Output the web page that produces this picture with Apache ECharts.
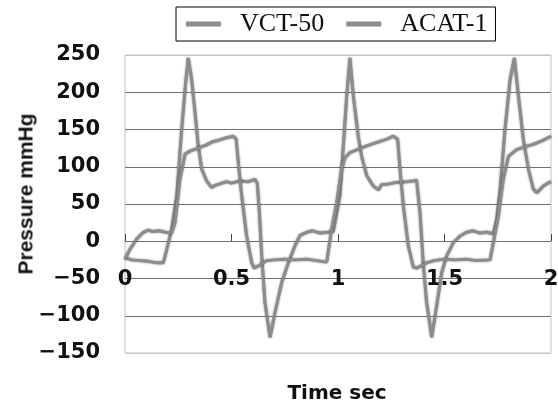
<!DOCTYPE html>
<html>
<head>
<meta charset="utf-8">
<script src="https://cdn.jsdelivr.net/npm/echarts@6/dist/echarts.min.js"></script>
<style>
html,body{margin:0;padding:0;background:#fff;}
#wrap{position:relative;width:558px;height:405px;}
#chart{position:absolute;left:0;top:0;width:558px;height:405px;}
.ttl{position:absolute;white-space:nowrap;color:#111;font-weight:bold;transform-origin:center center;line-height:1;}
#xt{left:337px;top:392px;font-family:'DejaVu Sans',sans-serif;font-size:20px;transform:translate(-50%,-50%);}
#yt{left:25px;top:194px;font-family:'Liberation Sans',sans-serif;font-size:21px;transform:translate(-50%,-50%) rotate(-90deg);}
</style>
</head>
<body>
<div id="wrap">
<div id="chart"></div>
<div class="ttl" id="xt"></div>
<div class="ttl" id="yt"></div>
</div>
<script>
// Series names
const seriesNames = ['VCT-50', 'ACAT-1'];

// VCT-50 (spiky waveform): time (s) and pressure (mmHg)
const vctTime = [0,0.03,0.07,0.11,0.149,0.18,0.196,0.219,0.243,0.266,0.286,0.297,0.313,0.329,0.344,0.36,0.383,0.407,0.423,0.445,0.477,0.5,0.54,0.58,0.61,0.621,0.631,0.642,0.657,0.681,0.704,0.736,0.767,0.798,0.822,0.853,0.88,0.915,0.95,0.978,1.009,1.025,1.041,1.056,1.072,1.095,1.111,1.135,1.166,1.19,1.205,1.24,1.275,1.32,1.354,1.369,1.385,1.4,1.416,1.44,1.463,1.487,1.51,1.541,1.573,1.604,1.635,1.667,1.7,1.729,1.745,1.761,1.784,1.808,1.828,1.847,1.87,1.894,1.917,1.933,1.964,1.98,2.0];
const vctValues = [-22,-25,-26,-27,-29,-29,-11,16,61,150,217,246,217,172,128,97,81,72,75,77,80,78,81,80,83,78,38,-20,-82,-129,-96,-55,-29,-6,8,12,14,11,12,13,61,128,195,246,195,141,114,88,74,69,76,77,79,80,81,82,38,-29,-82,-129,-87,-42,-20,-2,7,12,14,11,12,10,29,70,150,217,246,195,137,97,70,65,74,77,80];

// ACAT-1 (rounded waveform): time (s) and pressure (mmHg)
const acatTime = [0,0.023,0.055,0.086,0.11,0.13,0.16,0.19,0.219,0.235,0.258,0.282,0.305,0.352,0.38,0.415,0.445,0.477,0.509,0.522,0.532,0.548,0.571,0.595,0.606,0.634,0.665,0.7,0.75,0.8,0.85,0.9,0.947,0.97,0.994,1.017,1.033,1.056,1.1,1.135,1.197,1.23,1.26,1.28,1.291,1.307,1.33,1.354,1.37,1.416,1.45,1.5,1.55,1.6,1.65,1.714,1.729,1.753,1.776,1.8,1.839,1.88,1.917,1.96,2.0];
const acatValues = [-24,-11,3,12,15,13,14,12,11,25,83,117,121,126,129,134,136,139,141,137,106,61,7,-29,-36,-32,-26,-25,-24,-25,-24,-26,-28,16,52,97,112,119,124,128,134,137,141,137,97,47,-6,-35,-36,-29,-26,-24,-25,-24,-26,-25,-2,34,83,114,123,127,130,135,141];

// Axis settings
const xTicks = [0, 0.5, 1, 1.5, 2];
const yTicks = [-150, -100, -50, 0, 50, 100, 150, 200, 250];
const xTitle = 'Time sec';
const yTitle = 'Pressure mmHg';

document.getElementById('xt').textContent = xTitle;
document.getElementById('yt').textContent = yTitle;

function pairs(xs, ys) { return xs.map((x, i) => [x, ys[i]]); }

const chart = echarts.init(document.getElementById('chart'), null, {renderer: 'canvas'});
const lineColor = '#8c8c8c';
const gridColors = yTicks.map((v, i) => (i === 0 || i === yTicks.length - 1) ? '#c4c4c4' : '#707070');
const seriesLine = {color: lineColor, width: 3, shadowColor: 'rgba(0,0,0,0.55)', shadowBlur: 2};
chart.setOption({
  animation: false,
  grid: {left: 125, right: 7, top: 55, bottom: 52, outerBoundsMode: 'none',
         show: true, borderColor: '#c4c4c4', borderWidth: 1},
  legend: {
    data: seriesNames,
    left: 176, top: 7,
    padding: [4, 8, 4, 10],
    borderColor: '#000', borderWidth: 1,
    icon: 'rect', itemWidth: 35, itemHeight: 5, itemGap: 22,
    itemStyle: {color: lineColor},
    textStyle: {fontFamily: 'Liberation Serif', fontSize: 26, color: '#111', padding: [0, 0, 0, 14]}
  },
  xAxis: {
    type: 'value', min: xTicks[0], max: xTicks[xTicks.length - 1], interval: 0.5,
    position: 'bottom', offset: -112,
    axisLine: {show: true, onZero: false, lineStyle: {color: '#707070'}},
    axisTick: {show: true, inside: true, length: 7, lineStyle: {color: '#444'}},
    axisLabel: {margin: 28, fontFamily: 'DejaVu Sans', fontWeight: 'bold', fontSize: 21, color: '#111'},
    splitLine: {show: false}
  },
  yAxis: {
    type: 'value', min: yTicks[0], max: yTicks[yTicks.length - 1], interval: 50,
    axisLine: {show: false},
    axisTick: {show: false},
    axisLabel: {margin: 25, fontFamily: 'DejaVu Sans', fontWeight: 'bold', fontSize: 21, color: '#111',
      formatter: v => String(v).replace('-', '\u2212')},
    splitLine: {show: true, lineStyle: {color: gridColors, width: 1}}
  },
  series: [
    {name: seriesNames[0], type: 'line', data: pairs(vctTime, vctValues), showSymbol: false, symbol: 'none',
     lineStyle: seriesLine},
    {name: seriesNames[1], type: 'line', data: pairs(acatTime, acatValues), showSymbol: false, symbol: 'none',
     lineStyle: seriesLine}
  ]
});
</script>
</body>
</html>
